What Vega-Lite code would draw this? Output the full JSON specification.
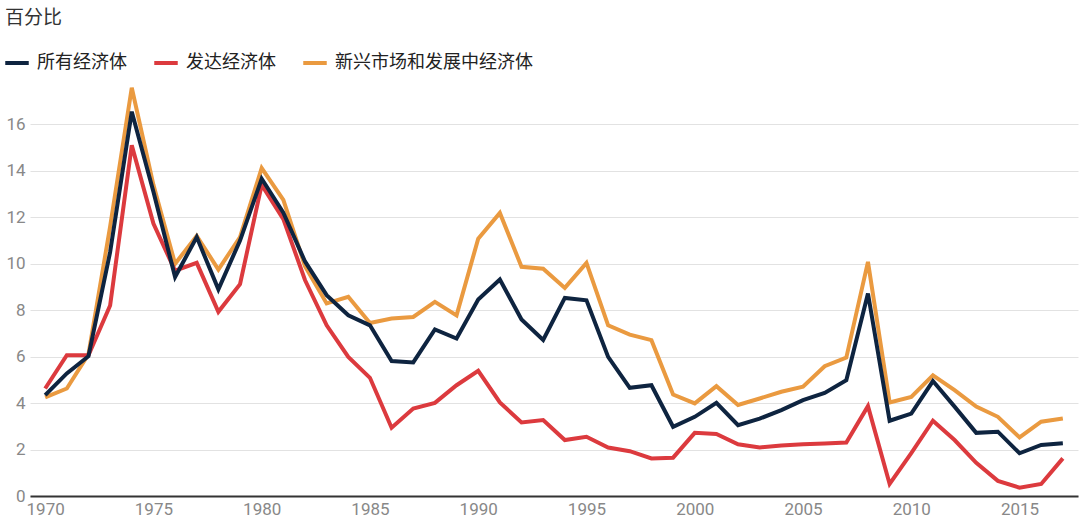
{
  "$schema": "https://vega.github.io/schema/vega-lite/v6.json",
  "width": 1048,
  "height": 418,
  "autosize": {"type": "none"},
  "padding": {"left": 30, "top": 78, "right": 2, "bottom": 35},
  "background": "white",
  "title": {
    "text": "百分比",
    "anchor": "start",
    "frame": "group",
    "font": "Noto Sans CJK SC",
    "fontSize": 19,
    "fontWeight": "normal",
    "color": "#333333",
    "dx": -25,
    "dy": -17
  },
  "config": {
    "view": {"stroke": null},
    "font": "Roboto, Noto Sans CJK SC"
  },
  "data": {
    "values": [
      {"year": 1970, "所有经济体": 4.34, "发达经济体": 4.63, "新兴市场和发展中经济体": 4.25},
      {"year": 1971, "所有经济体": 5.28, "发达经济体": 6.06, "新兴市场和发展中经济体": 4.63},
      {"year": 1972, "所有经济体": 6.02, "发达经济体": 6.06, "新兴市场和发展中经济体": 6.1},
      {"year": 1973, "所有经济体": 10.5, "发达经济体": 8.2, "新兴市场和发展中经济体": 11.6},
      {"year": 1974, "所有经济体": 16.55, "发达经济体": 15.1, "新兴市场和发展中经济体": 17.58},
      {"year": 1975, "所有经济体": 13.1, "发达经济体": 11.73, "新兴市场和发展中经济体": 13.4},
      {"year": 1976, "所有经济体": 9.43, "发达经济体": 9.7, "新兴市场和发展中经济体": 10.0},
      {"year": 1977, "所有经济体": 11.15, "发达经济体": 10.04, "新兴市场和发展中经济体": 11.2},
      {"year": 1978, "所有经济体": 8.9, "发达经济体": 7.93, "新兴市场和发展中经济体": 9.75},
      {"year": 1979, "所有经济体": 11.0, "发达经济体": 9.12, "新兴市场和发展中经济体": 11.15},
      {"year": 1980, "所有经济体": 13.66, "发达经济体": 13.4, "新兴市场和发展中经济体": 14.12},
      {"year": 1981, "所有经济体": 12.2, "发达经济体": 11.92, "新兴市场和发展中经济体": 12.75},
      {"year": 1982, "所有经济体": 10.1, "发达经济体": 9.3, "新兴市场和发展中经济体": 9.9},
      {"year": 1983, "所有经济体": 8.65, "发达经济体": 7.35, "新兴市场和发展中经济体": 8.29},
      {"year": 1984, "所有经济体": 7.78, "发达经济体": 5.99, "新兴市场和发展中经济体": 8.58},
      {"year": 1985, "所有经济体": 7.35, "发达经济体": 5.09, "新兴市场和发展中经济体": 7.45},
      {"year": 1986, "所有经济体": 5.81, "发达经济体": 2.94, "新兴市场和发展中经济体": 7.64},
      {"year": 1987, "所有经济体": 5.75, "发达经济体": 3.77, "新兴市场和发展中经济体": 7.71},
      {"year": 1988, "所有经济体": 7.17, "发达经济体": 4.01, "新兴市场和发展中经济体": 8.36},
      {"year": 1989, "所有经济体": 6.78, "发达经济体": 4.77, "新兴市场和发展中经济体": 7.78},
      {"year": 1990, "所有经济体": 8.46, "发达经济体": 5.39, "新兴市场和发展中经济体": 11.08},
      {"year": 1991, "所有经济体": 9.32, "发达经济体": 4.03, "新兴市场和发展中经济体": 12.19},
      {"year": 1992, "所有经济体": 7.6, "发达经济体": 3.17, "新兴市场和发展中经济体": 9.87},
      {"year": 1993, "所有经济体": 6.72, "发达经济体": 3.27, "新兴市场和发展中经济体": 9.79},
      {"year": 1994, "所有经济体": 8.53, "发达经济体": 2.41, "新兴市场和发展中经济体": 8.96},
      {"year": 1995, "所有经济体": 8.43, "发达经济体": 2.55, "新兴市场和发展中经济体": 10.04},
      {"year": 1996, "所有经济体": 5.99, "发达经济体": 2.09, "新兴市场和发展中经济体": 7.35},
      {"year": 1997, "所有经济体": 4.66, "发达经济体": 1.93, "新兴市场和发展中经济体": 6.95},
      {"year": 1998, "所有经济体": 4.77, "发达经济体": 1.62, "新兴市场和发展中经济体": 6.71},
      {"year": 1999, "所有经济体": 2.98, "发达经济体": 1.65, "新兴市场和发展中经济体": 4.37},
      {"year": 2000, "所有经济体": 3.41, "发达经济体": 2.72, "新兴市场和发展中经济体": 3.99},
      {"year": 2001, "所有经济体": 4.01, "发达经济体": 2.67, "新兴市场和发展中经济体": 4.73},
      {"year": 2002, "所有经济体": 3.05, "发达经济体": 2.23, "新兴市场和发展中经济体": 3.92},
      {"year": 2003, "所有经济体": 3.33, "发达经济体": 2.09, "新兴市场和发展中经济体": 4.2},
      {"year": 2004, "所有经济体": 3.7, "发达经济体": 2.17, "新兴市场和发展中经济体": 4.49},
      {"year": 2005, "所有经济体": 4.13, "发达经济体": 2.23, "新兴市场和发展中经济体": 4.71},
      {"year": 2006, "所有经济体": 4.44, "发达经济体": 2.26, "新兴市场和发展中经济体": 5.59},
      {"year": 2007, "所有经济体": 4.99, "发达经济体": 2.3, "新兴市场和发展中经济体": 5.96},
      {"year": 2008, "所有经济体": 8.72, "发达经济体": 3.87, "新兴市场和发展中经济体": 10.08},
      {"year": 2009, "所有经济体": 3.24, "发达经济体": 0.52, "新兴市场和发展中经济体": 4.03},
      {"year": 2010, "所有经济体": 3.55, "发达经济体": 1.85, "新兴市场和发展中经济体": 4.27},
      {"year": 2011, "所有经济体": 4.95, "发达经济体": 3.24, "新兴市场和发展中经济体": 5.2},
      {"year": 2012, "所有经济体": 3.85, "发达经济体": 2.41, "新兴市场和发展中经济体": 4.56},
      {"year": 2013, "所有经济体": 2.72, "发达经济体": 1.43, "新兴市场和发展中经济体": 3.85},
      {"year": 2014, "所有经济体": 2.77, "发达经济体": 0.65, "新兴市场和发展中经济体": 3.41},
      {"year": 2015, "所有经济体": 1.84, "发达经济体": 0.36, "新兴市场和发展中经济体": 2.52},
      {"year": 2016, "所有经济体": 2.2, "发达经济体": 0.52, "新兴市场和发展中经济体": 3.2},
      {"year": 2017, "所有经济体": 2.27, "发达经济体": 1.62, "新兴市场和发展中经济体": 3.34}
    ]
  },
  "transform": [
    {"fold": ["所有经济体", "发达经济体", "新兴市场和发展中经济体"], "as": ["series", "value"]}
  ],
  "encoding": {
    "x": {
      "field": "year",
      "type": "quantitative",
      "scale": {"domain": [1969.3, 2017.7], "nice": false, "zero": false},
      "axis": {
        "values": [1970, 1975, 1980, 1985, 1990, 1995, 2000, 2005, 2010, 2015],
        "format": "d",
        "title": null,
        "grid": false,
        "ticks": false,
        "domainColor": "#333333",
        "domainWidth": 2,
        "labelFontSize": 17,
        "labelColor": "#888888",
        "labelPadding": 5,
        "labelFont": "Roboto"
      }
    },
    "y": {
      "field": "value",
      "type": "quantitative",
      "scale": {"domain": [0, 18], "nice": false},
      "axis": {
        "values": [0, 2, 4, 6, 8, 10, 12, 14, 16],
        "title": null,
        "domain": false,
        "ticks": false,
        "gridColor": "#e2e2e2",
        "gridWidth": 1,
        "labelFontSize": 17,
        "labelColor": "#888888",
        "labelPadding": 5,
        "labelFont": "Roboto"
      }
    },
    "color": {
      "field": "series",
      "type": "nominal",
      "scale": {
        "domain": ["所有经济体", "发达经济体", "新兴市场和发展中经济体"],
        "range": ["#0e2440", "#dc3a3e", "#ea9a40"]
      },
      "legend": {
        "title": null,
        "orient": "none",
        "direction": "horizontal",
        "legendX": -27,
        "legendY": -29,
        "padding": 0,
        "symbolType": "stroke",
        "symbolSize": 552,
        "symbolStrokeWidth": 4,
        "labelFont": "Noto Sans CJK SC",
        "labelFontSize": 18,
        "labelColor": "#222222",
        "labelOffset": 6,
        "labelLimit": 0,
        "columnPadding": 19
      }
    }
  },
  "layer": [
    {
      "transform": [{"filter": "datum.series === '新兴市场和发展中经济体'"}],
      "mark": {"type": "line", "strokeWidth": 4, "strokeJoin": "miter"}
    },
    {
      "transform": [{"filter": "datum.series === '发达经济体'"}],
      "mark": {"type": "line", "strokeWidth": 4, "strokeJoin": "miter"}
    },
    {
      "transform": [{"filter": "datum.series === '所有经济体'"}],
      "mark": {"type": "line", "strokeWidth": 4, "strokeJoin": "miter"}
    }
  ]
}
